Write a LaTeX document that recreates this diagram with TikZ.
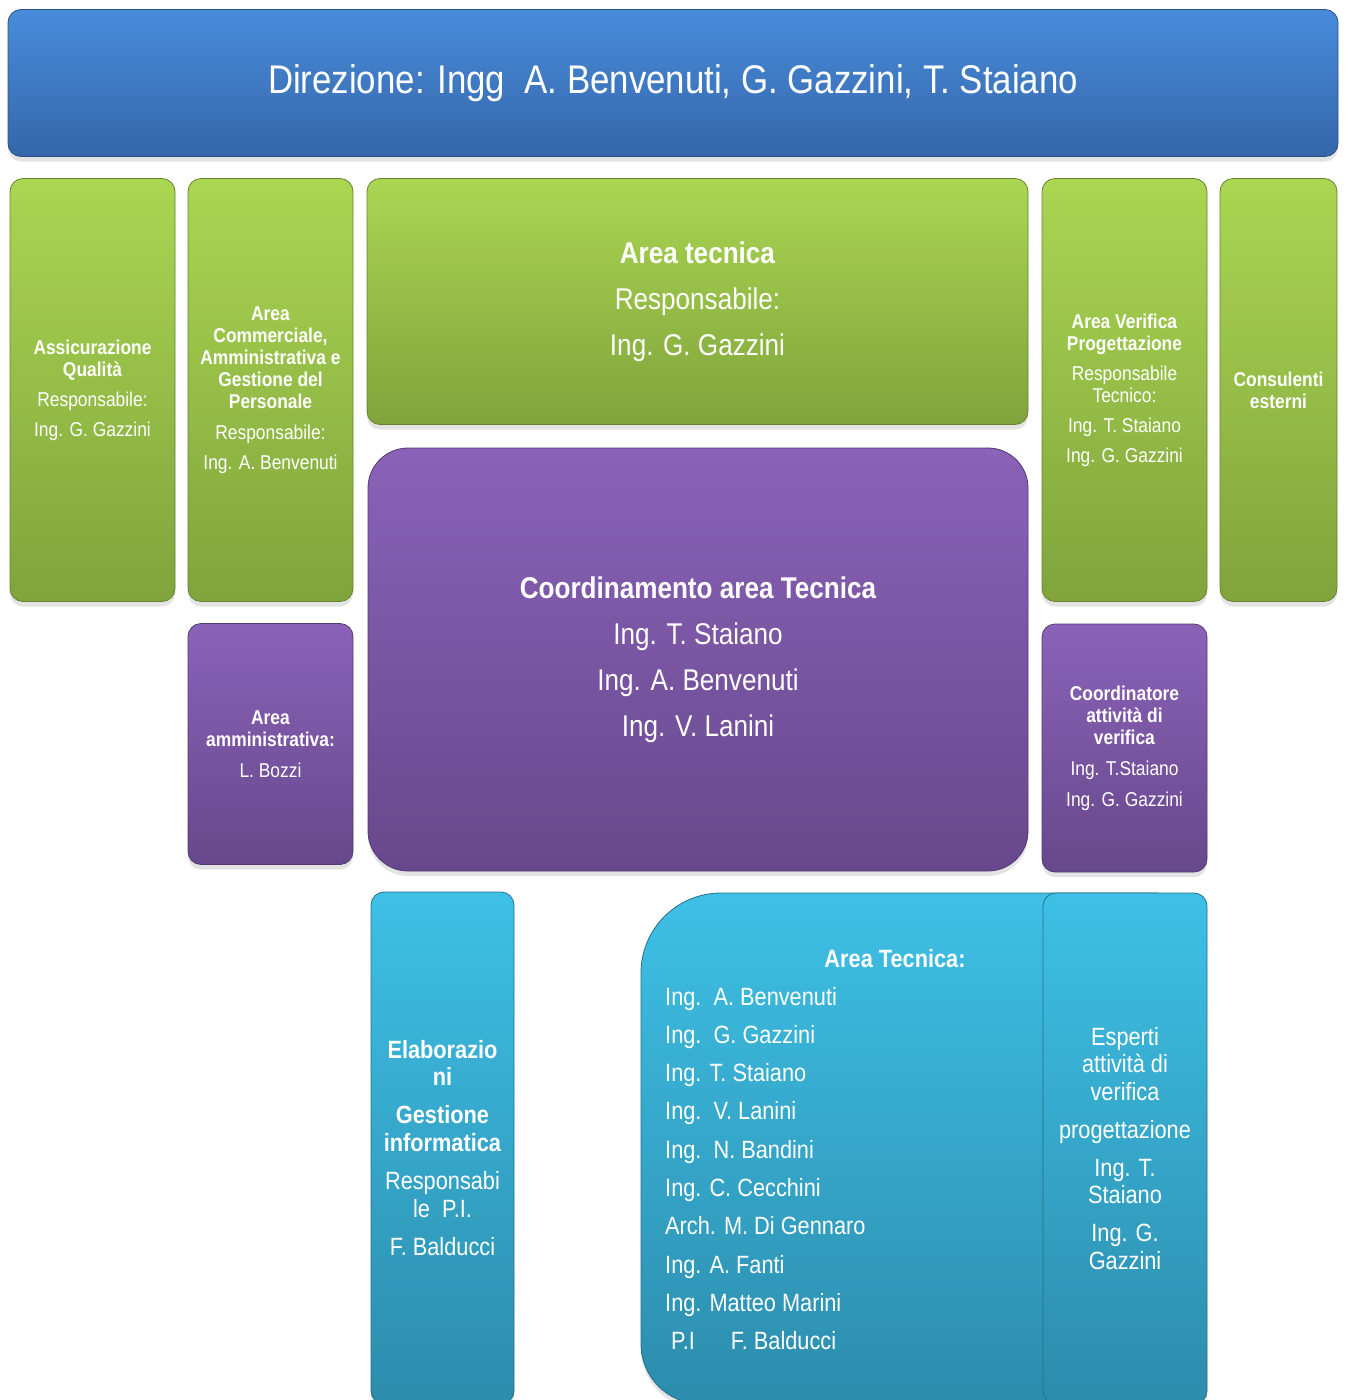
\documentclass[tikz,border=0pt]{standalone}
\usepackage{fontspec}
\setmainfont[FakeStretch=0.87]{Liberation Sans}
\usepackage{tikz}
\usetikzlibrary{shadows}
\definecolor{bluetop}{RGB}{72,140,218}
\definecolor{bluebot}{RGB}{53,102,170}
\definecolor{greentop}{RGB}{170,214,82}
\definecolor{greenbot}{RGB}{128,164,60}
\definecolor{purpletop}{RGB}{138,98,184}
\definecolor{purplebot}{RGB}{104,72,140}
\definecolor{cyantop}{RGB}{62,192,230}
\definecolor{cyanbot}{RGB}{44,140,172}

\tikzset{
  box/.style={rounded corners=13pt, text=white, align=center, inner sep=0pt,
    line width=0.8pt,
    drop shadow={opacity=0.22, shadow xshift=0pt, shadow yshift=-5pt}},
  greenbox/.style={box, draw=greenbot!80!black, top color=greentop, bottom color=greenbot},
  purplebox/.style={box, draw=purplebot!80!black, top color=purpletop, bottom color=purplebot},
  cyanbox/.style={box, draw=cyanbot!80!black, top color=cyantop, bottom color=cyanbot},
  small/.style={font=\fontsize{20}{22}\selectfont},
  big/.style={font=\fontsize{30}{36}\selectfont},
  mid/.style={font=\fontsize{25}{27.5}\selectfont}
}

\begin{document}
\begin{tikzpicture}[x=1pt, y=-1pt]
  \useasboundingbox (0,0) rectangle (1347,1400);

  % direzione
  \node[box, draw=bluebot!80!black, top color=bluetop, bottom color=bluebot,
        minimum width=1330pt, minimum height=147pt,
        font=\fontsize{40}{46}\selectfont] (dir) at (673,83)
        {Direzione: Ingg\ \ A. Benvenuti, G. Gazzini, T. Staiano};

  % prima fila
  \node[greenbox, small, minimum width=165pt, minimum height=423pt] (qual) at (92.5,390)
    {\textbf{Assicurazione}\\\textbf{Qualità}\\[8pt]Responsabile:\\[8pt]Ing. G. Gazzini};
  \node[greenbox, small, minimum width=165pt, minimum height=423pt] (comm) at (270.5,390)
    {\textbf{Area}\\\textbf{Commerciale,}\\\textbf{Amministrativa e}\\\textbf{Gestione del}\\\textbf{Personale}\\[9pt]Responsabile:\\[8pt]Ing. A. Benvenuti};
  \node[greenbox, big, minimum width=661pt, minimum height=246pt] (tec) at (697.5,301.5)
    {\textbf{Area tecnica}\\[10pt]Responsabile:\\[10pt]Ing. G. Gazzini};
  \node[greenbox, small, minimum width=165pt, minimum height=423pt] (verif) at (1124.5,390)
    {\textbf{Area Verifica}\\\textbf{Progettazione}\\[8pt]Responsabile\\Tecnico:\\[8pt]Ing. T. Staiano\\[8pt]Ing. G. Gazzini};
  \node[greenbox, small, minimum width=117pt, minimum height=423pt] (cons) at (1278.5,390)
    {\textbf{Consulenti}\\\textbf{esterni}};

  % seconda fila
  \node[purplebox, small, minimum width=165pt, minimum height=241pt] (amm) at (270.5,744)
    {\textbf{Area}\\\textbf{amministrativa:}\\[9pt]L. Bozzi};
  \node[purplebox, big, rounded corners=40pt, minimum width=660pt, minimum height=423pt] (coord) at (698,659.5)
    {\textbf{Coordinamento area Tecnica}\\[10pt]Ing. T. Staiano\\[10pt]Ing. A. Benvenuti\\[10pt]Ing. V. Lanini};
  \node[purplebox, small, minimum width=165pt, minimum height=248pt] (coatt) at (1124.5,748)
    {\textbf{Coordinatore}\\\textbf{attività di}\\\textbf{verifica}\\[9pt]Ing. T.Staiano\\[9pt]Ing. G. Gazzini};

  % terza fila
  \node[cyanbox, mid, minimum width=143pt, minimum height=512pt] (elab) at (442.5,1148)
    {\textbf{Elaborazio}\\\textbf{ni}\\[10.5pt]\textbf{Gestione}\\\textbf{informatica}\\[11pt]Responsabi\\le\ \ P.I.\\[10.5pt]F. Balducci};

  \path[box, draw=cyanbot!80!black, top color=cyantop, bottom color=cyanbot]
    (1170,1404) -- (1170,893) [rounded corners=80pt] -- (641,893)
    [rounded corners=60pt] -- (641,1404) [sharp corners] -- cycle;
  \node[text=white, mid, anchor=base] (head) at (895,967) {\textbf{Area Tecnica:}};
  \foreach \who [count=\k] in {Ing.\ \ A. Benvenuti, Ing.\ \ G. Gazzini, Ing. T. Staiano,
      Ing.\ \ V. Lanini, Ing.\ \ N. Bandini, Ing. C. Cecchini, Arch. M. Di Gennaro,
      Ing. A. Fanti, Ing. Matteo Marini, \hspace{6pt}P.I\hspace{36pt}F. Balducci}
    \node[text=white, mid, anchor=base west, inner sep=0pt] (memb\k) at (665,{1005+(\k-1)*38.3}) {\who};

  \node[cyanbox, mid, minimum width=164pt, minimum height=511pt] (esp) at (1125,1148.5)
    {Esperti\\attività di\\verifica\\[10.5pt]progettazione\\[10.5pt]Ing. T.\\Staiano\\[10.5pt]Ing. G.\\Gazzini};
\end{tikzpicture}
\end{document}
